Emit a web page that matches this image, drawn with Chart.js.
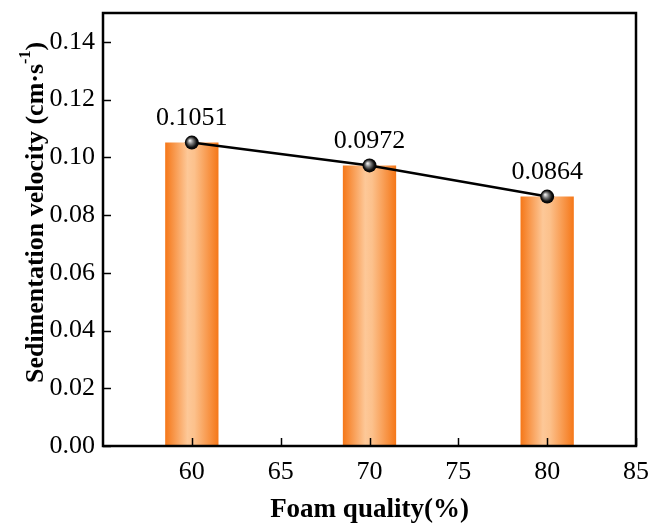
<!DOCTYPE html>
<html>
<head>
<meta charset="utf-8">
<script src="https://cdn.jsdelivr.net/npm/chart.js@4.4.0/dist/chart.umd.min.js"></script>
<style>
  html, body { margin: 0; padding: 0; background: #fff; }
  #wrap { width: 650px; height: 526px; }
</style>
</head>
<body>
<div id="wrap"><canvas id="chart" width="650" height="526"></canvas></div>
<script>
// datos del grafico
const foamQuality = [60, 70, 80];
const velocity = [0.1051, 0.0972, 0.0864];
const velocityLabels = ['0.1051', '0.0972', '0.0864'];
const xTicks = [60, 65, 70, 75, 80, 85];
const yTicks = [0, 0.02, 0.04, 0.06, 0.08, 0.1, 0.12, 0.14];

const SERIF = '"Liberation Serif", "Times New Roman", serif';

// degradado horizontal de cada barra
function barGradient(c) {
    const chart = c.chart;
    if (!chart.chartArea || c.type !== 'data') return '#f57c1f';
    const xs = chart.scales.x;
    const cx = xs.getPixelForValue(foamQuality[c.dataIndex]);
    const half = (xs.getPixelForValue(70) - xs.getPixelForValue(60)) * 0.15;
    const g = chart.ctx.createLinearGradient(cx - half, 0, cx + half, 0);
    g.addColorStop(0, '#f57718');
    g.addColorStop(0.42, '#fdc898');
    g.addColorStop(0.55, '#fcc18c');
    g.addColorStop(1, '#f57718');
    return g;
}

// punto tipo esfera
function sphere(c) {
    const chart = c.chart;
    if (!chart.chartArea || c.type !== 'data') return '#000';
    const px = chart.scales.x.getPixelForValue(foamQuality[c.dataIndex]);
    const py = chart.scales.y.getPixelForValue(velocity[c.dataIndex]);
    const g = chart.ctx.createRadialGradient(px - 2, py - 2, 0.5, px, py, 7);
    g.addColorStop(0, '#e8e8e8');
    g.addColorStop(0.35, '#7a7a7a');
    g.addColorStop(0.75, '#101010');
    g.addColorStop(1, '#000');
    return g;
}

// marco, marcas hacia dentro, etiquetas y titulo Y
const framePlugin = {
    id: 'frame',
    afterDatasetsDraw(chart) {
        const { ctx, chartArea: a, scales } = chart;
        ctx.save();
        ctx.strokeStyle = '#000';
        ctx.lineWidth = 1.5;
        scales.x.ticks.forEach(t => {
            const p = Math.round(scales.x.getPixelForValue(t.value)) + 0.5;
            ctx.beginPath();
            ctx.moveTo(p, a.bottom);
            ctx.lineTo(p, a.bottom - 8);
            ctx.stroke();
        });
        scales.y.ticks.forEach(t => {
            const p = Math.round(scales.y.getPixelForValue(t.value)) + 0.5;
            ctx.beginPath();
            ctx.moveTo(a.left, p);
            ctx.lineTo(a.left + 8, p);
            ctx.stroke();
        });
        ctx.lineWidth = 2.5;
        ctx.strokeRect(a.left, a.top, a.right - a.left, a.bottom - a.top);

        // valores sobre los puntos
        ctx.fillStyle = '#000';
        ctx.font = '26px ' + SERIF;
        ctx.textAlign = 'center';
        ctx.textBaseline = 'middle';
        const meta = chart.getDatasetMeta(1);
        meta.data.forEach((pt, i) => {
            ctx.fillText(velocityLabels[i], pt.x, pt.y - 24);
        });

        // titulo eje Y con superindice
        ctx.translate(36, (a.top + a.bottom) / 2 - 17);
        ctx.rotate(-Math.PI / 2);
        ctx.textBaseline = 'middle';
        ctx.textAlign = 'left';
        const main = 'Sedimentation velocity (cm\u00b7s';
        ctx.font = 'bold 26px ' + SERIF;
        const w1 = ctx.measureText(main).width;
        ctx.font = 'bold 16px ' + SERIF;
        const w2 = ctx.measureText('-1').width;
        ctx.font = 'bold 26px ' + SERIF;
        const w3 = ctx.measureText(')').width;
        let x = -(w1 + w2 + w3) / 2;
        ctx.fillText(main, x, 0);
        x += w1;
        ctx.font = 'bold 16px ' + SERIF;
        ctx.fillText('-1', x, -10);
        x += w2;
        ctx.font = 'bold 26px ' + SERIF;
        ctx.fillText(')', x, 0);
        ctx.restore();
    }
};

new Chart(document.getElementById('chart'), {
    data: {
        datasets: [
            {
                type: 'bar',
                data: foamQuality.map((q, i) => ({ x: q, y: velocity[i] })),
                backgroundColor: barGradient,
                borderWidth: 0,
                barPercentage: 0.6,
                categoryPercentage: 1,
                order: 2
            },
            {
                type: 'line',
                data: foamQuality.map((q, i) => ({ x: q, y: velocity[i] })),
                borderColor: '#000',
                borderWidth: 2.5,
                pointRadius: 7,
                pointBackgroundColor: sphere,
                pointBorderWidth: 0,
                tension: 0,
                order: 1
            }
        ]
    },
    options: {
        responsive: false,
        animation: false,
        layout: { padding: { left: 0, top: 13, right: 14, bottom: 0 } },
        plugins: {
            legend: { display: false },
            tooltip: { enabled: false }
        },
        scales: {
            x: {
                type: 'linear',
                min: 55,
                max: 85,
                offset: false,
                afterBuildTicks: s => { s.ticks = xTicks.map(v => ({ value: v })); },
                afterFit: s => { s.height = 80; s.paddingLeft = 0; s.paddingRight = 0; },
                grid: { display: false, drawTicks: false },
                border: { display: false },
                ticks: {
                    padding: 11,
                    color: '#000',
                    font: { family: SERIF, size: 26 }
                },
                title: {
                    display: true,
                    text: 'Foam quality(%)',
                    color: '#000',
                    font: { family: SERIF, size: 27, weight: 'bold' },
                    padding: { top: 4, bottom: 0 }
                }
            },
            y: {
                min: 0,
                max: 0.15,
                afterBuildTicks: s => { s.ticks = yTicks.map(v => ({ value: v })); },
                afterFit: s => { s.width = 103; s.paddingTop = 0; s.paddingBottom = 0; },
                grid: { display: false, drawTicks: false },
                border: { display: false },
                ticks: {
                    padding: 8,
                    color: '#000',
                    font: { family: SERIF, size: 26 },
                    callback: v => v.toFixed(2)
                }
            }
        }
    },
    plugins: [framePlugin]
});
</script>
</body>
</html>
